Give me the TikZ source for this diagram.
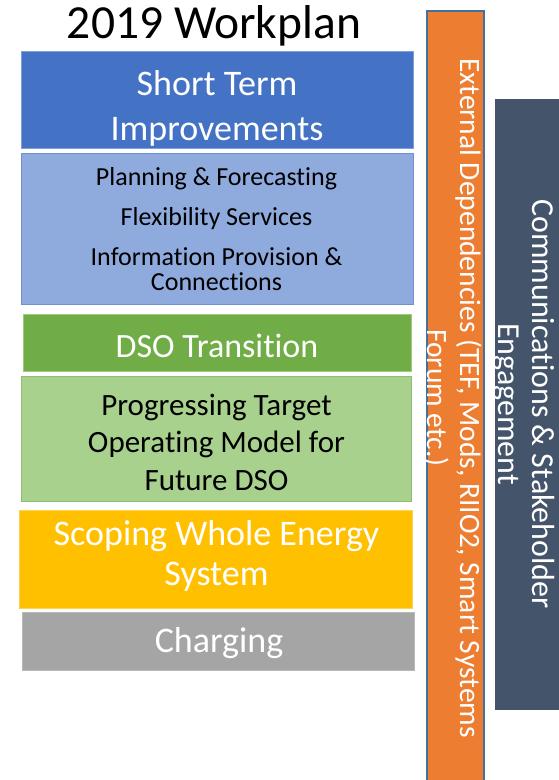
\documentclass[tikz,border=0pt]{standalone}
\usepackage{fontspec}
\setmainfont{Carlito}[Ligatures={NoCommon,NoDiscretionary}]
\usetikzlibrary{positioning}
\definecolor{stblue}{HTML}{4472C4}
\definecolor{stblueline}{HTML}{7F9FD8}
\definecolor{itemblue}{HTML}{8FAADC}
\definecolor{itemblueline}{HTML}{6E90CC}
\definecolor{dsogreen}{HTML}{70AD47}
\definecolor{dsogreenline}{HTML}{9CCB7E}
\definecolor{tomgreen}{HTML}{A9D18E}
\definecolor{tomgreenline}{HTML}{8CC070}
\definecolor{wholeyellow}{HTML}{FFC000}
\definecolor{wholeyellowline}{HTML}{FFD34D}
\definecolor{chargegrey}{HTML}{A5A5A5}
\definecolor{chargegreyline}{HTML}{B8B8B8}
\definecolor{extorange}{HTML}{ED7D31}
\definecolor{extline}{HTML}{41719C}
\definecolor{commslate}{HTML}{44546A}
\tikzstyle{block} = [
  rectangle,
  line width=1pt,
  inner sep=0pt,
  minimum width=392pt
]
\tikzstyle{bar} = [
  rectangle,
  inner sep=0pt,
  anchor=north west
]
\tikzstyle{whitetext} = [text=white, align=center, anchor=base]
\tikzstyle{darktext} = [text=black, align=center, anchor=base]

\begin{document}
\begin{tikzpicture}[x=1pt, y=-1pt]
    \useasboundingbox (0,0) rectangle (558,780);
    \node (title) at (214,38) [darktext, font=\fontsize{47.5}{55}\selectfont] {2019 Workplan};

    % work streams
    \node (short-term) at (217,99.5) [block, fill=stblue, draw=stblueline, minimum height=97pt] {};
    \node (short-term-items) [block, below=4pt of short-term, fill=itemblue, draw=itemblueline, minimum height=151pt] {};
    \node (dso-transition) [block, below=9pt of short-term-items, fill=dsogreen, draw=dsogreenline, minimum width=388pt, minimum height=57pt] {};
    \node (target-model) [block, below=4pt of dso-transition, xshift=-1pt, fill=tomgreen, draw=tomgreenline, minimum width=390pt, minimum height=125pt] {};
    \node (whole-energy) [block, below=8pt of target-model, fill=wholeyellow, draw=wholeyellowline, minimum width=393pt, minimum height=98pt] {};
    \node (charging) [block, below=3pt of whole-energy, xshift=2.5pt, fill=chargegrey, draw=chargegreyline, minimum height=58pt] {};

    % labels sit on the baseline of their last line
    \node (short-term-label) at (217,140) [whitetext, font=\fontsize{36}{45}\selectfont] {Short Term\\Improvements};
    \node (short-term-items-label) at (216.5,290) [darktext, font=\fontsize{26}{25}\selectfont] {Planning \& Forecasting\\[15pt]Flexibility Services\\[15pt]Information Provision \&\\Connections};
    \node (dso-transition-label) at (217,357) [whitetext, font=\fontsize{34}{40}\selectfont] {DSO Transition};
    \node (target-model-label) at (216.5,490) [darktext, font=\fontsize{31}{37.5}\selectfont] {Progressing Target\\Operating Model for\\Future DSO};
    \node (whole-energy-label) at (216.5,585) [whitetext, font=\fontsize{36}{40}\selectfont] {Scoping Whole Energy\\System};
    \node (charging-label) at (219,652) [whitetext, font=\fontsize{36}{40}\selectfont] {Charging};

    % side bars
    \node (external) at (426,10) [bar, fill=extorange, draw=extline, line width=2pt, minimum width=57pt, minimum height=790pt] {};
    \node (engagement) at (495,99) [bar, fill=commslate, minimum width=70pt, minimum height=611pt] {};
    \node (external-label) at (427,398) [whitetext, rotate=-90, font=\fontsize{29.5}{33}\selectfont] {External Dependencies (TEF, Mods, RIIO2, Smart Systems\\Forum etc.)};
    \node (engagement-label) at (498,404) [whitetext, rotate=-90, font=\fontsize{32}{34}\selectfont] {Communications \& Stakeholder\\Engagement};
  \end{tikzpicture}
\end{document}
